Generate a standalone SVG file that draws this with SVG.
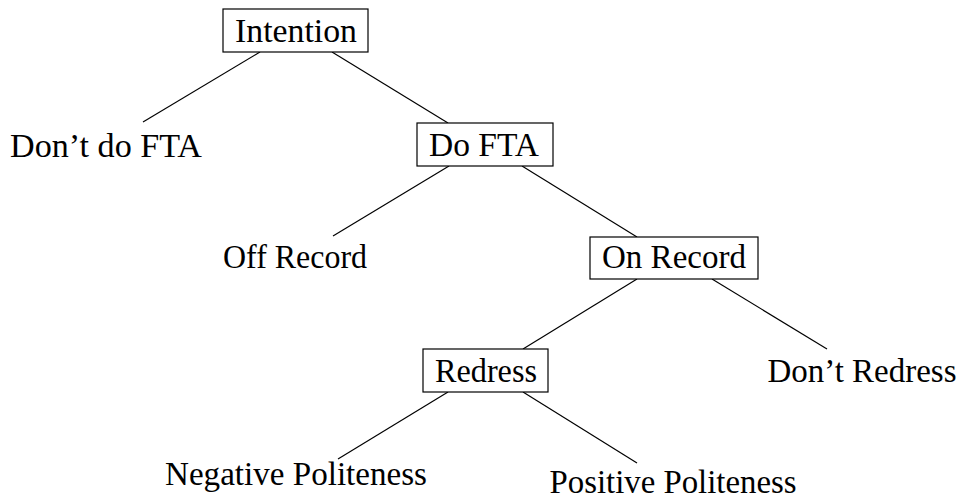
<svg xmlns="http://www.w3.org/2000/svg" width="960" height="500" viewBox="0 0 960 500">
<style>
  .box { fill: #fff; stroke: #000; stroke-width: 1.2; }
  .lbl { font-family: "Liberation Serif", "DejaVu Serif", serif; font-size: 33px; fill: #000; text-anchor: middle; }
  .edge { stroke: #000; stroke-width: 1.2; fill: none; }
</style>
<rect width="960" height="500" fill="#fff"/>
<g id="connectors">
  <line class="edge" x1="260" y1="52" x2="143" y2="122"/>
  <line class="edge" x1="332" y1="52" x2="448" y2="123"/>
  <line class="edge" x1="449" y1="166" x2="333" y2="236"/>
  <line class="edge" x1="522" y1="166" x2="637" y2="237"/>
  <line class="edge" x1="637" y1="279" x2="523" y2="349"/>
  <line class="edge" x1="712" y1="279" x2="827" y2="349"/>
  <line class="edge" x1="448" y1="392" x2="338" y2="459"/>
  <line class="edge" x1="523" y1="392" x2="637" y2="463"/>
</g>
<g id="intention">
  <rect class="box" x="223" y="9" width="145" height="43"/>
  <text class="lbl" x="296" y="42" textLength="122" lengthAdjust="spacingAndGlyphs">Intention</text>
</g>
<g id="dont-do-fta">
  <text class="lbl" x="106" y="157" textLength="192" lengthAdjust="spacingAndGlyphs">Don’t do FTA</text>
</g>
<g id="do-fta">
  <rect class="box" x="417" y="123" width="136" height="43"/>
  <text class="lbl" x="484" y="156" textLength="110" lengthAdjust="spacingAndGlyphs">Do FTA</text>
</g>
<g id="off-record">
  <text class="lbl" x="295" y="268" textLength="144" lengthAdjust="spacingAndGlyphs">Off Record</text>
</g>
<g id="on-record">
  <rect class="box" x="590" y="237" width="168" height="42"/>
  <text class="lbl" x="674" y="268" textLength="144" lengthAdjust="spacingAndGlyphs">On Record</text>
</g>
<g id="redress">
  <rect class="box" x="423" y="349" width="125" height="43"/>
  <text class="lbl" x="486" y="382" textLength="102" lengthAdjust="spacingAndGlyphs">Redress</text>
</g>
<g id="dont-redress">
  <text class="lbl" x="862" y="382" textLength="189" lengthAdjust="spacingAndGlyphs">Don’t Redress</text>
</g>
<g id="negative-politeness">
  <text class="lbl" x="296" y="485" textLength="262" lengthAdjust="spacingAndGlyphs">Negative Politeness</text>
</g>
<g id="positive-politeness">
  <text class="lbl" x="673" y="493" textLength="247" lengthAdjust="spacingAndGlyphs">Positive Politeness</text>
</g>
</svg>
